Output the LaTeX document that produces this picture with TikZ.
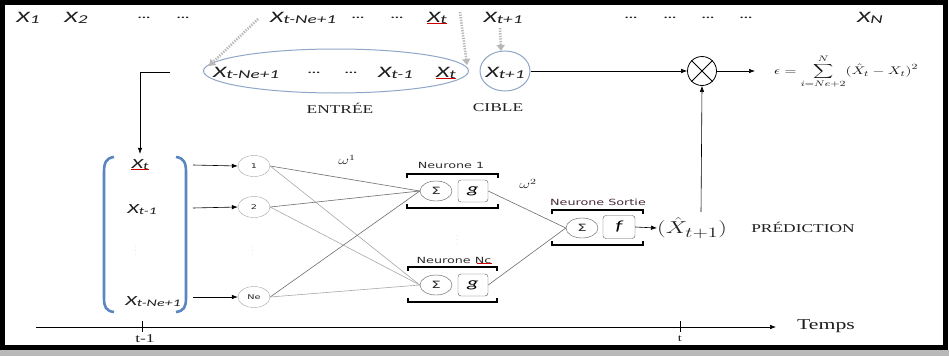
\documentclass[tikz,border=0pt]{standalone}
\usepackage{fontspec}
\usepackage{graphicx}
\usetikzlibrary{shapes.geometric,arrows.meta}
\newfontfamily\xfont[FakeStretch=1.6]{Carlito}
\newfontfamily\labfont[FakeStretch=1.5]{DejaVu Sans}
\newfontfamily\serw[FakeStretch=1.45]{Liberation Serif}
\definecolor{ellblue}{HTML}{8EA6C8}
\definecolor{parblue}{HTML}{5B86C0}
\definecolor{txt}{HTML}{1E1E1E}
\definecolor{wire}{HTML}{6E6E6E}
\definecolor{wirelt}{HTML}{A8A8A8}
\definecolor{dotgrey}{HTML}{B8B8B8}
\definecolor{sortie}{HTML}{4A2A3A}
% series values X with a subscript, large and small variants
\newcommand\xvar[1]{{\xfont\itshape\fontsize{16}{18}\selectfont X\raisebox{-1.5pt}{\fontsize{12}{13}\selectfont #1}}}
\newcommand\xsm[1]{{\xfont\itshape\fontsize{14}{16}\selectfont X\raisebox{-1.5pt}{\fontsize{10}{12}\selectfont #1}}}
\newcommand\ddd{{\xfont\bfseries\fontsize{10}{12}\selectfont ...}}
\newcommand\wide[1]{\scalebox{1.4}[1]{#1}}
\begin{document}
\begin{tikzpicture}[x=1pt,y=-1pt,
  lbl/.style={inner sep=0pt, text=txt},
  wirearrow/.style={-{Latex[length=6pt,width=4.5pt]}, line width=0.6pt},
  dotarrow/.style={draw=dotgrey, line width=2.6pt, dash pattern=on 1.3pt off 1.3pt,
     -{Triangle[length=6pt,width=8pt,fill=dotgrey]}},
  inneur/.style={ellipse, draw=gray!70, minimum width=32pt, minimum height=21pt, inner sep=0pt,
     font=\labfont\fontsize{6.5}{7}\selectfont, text=gray!30!black},
  sumnode/.style={ellipse, draw=gray!70!black, minimum width=32pt, minimum height=20pt, inner sep=0pt,
     font=\labfont\fontsize{10}{11}\selectfont, text=gray!30!black},
  actbox/.style={rectangle, rounded corners=3pt, draw=gray!70!black, minimum width=30pt, minimum height=22pt,
     inner sep=0pt, font=\xfont\itshape\fontsize{14}{15}\selectfont},
  brk/.style={line width=2.2pt, black},
  link/.style={draw=wire, line width=0.6pt},
  linklt/.style={draw=wirelt, line width=0.6pt},
  squig/.style={draw=red!80!black, line width=0.6pt},
  nlab/.style={inner sep=0pt, font=\labfont\fontsize{8.5}{9}\selectfont, text=gray!35!black},
  caps/.style={inner sep=0pt, font=\serw\fontsize{12}{13}\selectfont, text=gray!25!black},
]
\useasboundingbox (0,0) rectangle (949,356);
\fill[white] (0,0) rectangle (949,356);
% frame
\fill[gray!55] (0,350) rectangle (949,356);
\draw[line width=5pt] (2.5,2.5) rectangle (945.5,347.5);

% time series
\node[lbl,anchor=base] (x1) at (28,22) {\xvar{1}};
\node[lbl,anchor=base] (x2) at (76,22) {\xvar{2}};
\node[lbl] (d1) at (144,18) {\ddd};
\node[lbl] (d2) at (183,18) {\ddd};
\node[lbl,anchor=base west] (xa) at (270,22) {\xvar{t-Ne+1}};
\node[lbl] (d3) at (358,18) {\ddd};
\node[lbl] (d4) at (397,18) {\ddd};
\node[lbl,anchor=base] (xt) at (437,22) {\xvar{t}};
\node[lbl,anchor=base] (xn1) at (503,22) {\xvar{t+1}};
\node[lbl] (d5) at (631,18) {\ddd};
\node[lbl] (d6) at (670,18) {\ddd};
\node[lbl] (d7) at (708,18) {\ddd};
\node[lbl] (d8) at (746,18) {\ddd};
\node[lbl,anchor=base] (xN) at (870,22) {\xvar{N}};
\draw[squig] (xt.south west) -- (xt.south east);

% input window and target
\node[ellipse, draw=ellblue, line width=1pt, minimum width=265pt, minimum height=44pt] (win) at (336,71) {};
\node[ellipse, draw=ellblue, line width=1pt, minimum width=50pt, minimum height=40pt] (tgt) at (505,71) {};
\node[lbl,anchor=base west] (e1) at (213,77) {\xvar{t-Ne+1}};
\node[lbl] (e2) at (314,73) {\ddd};
\node[lbl] (e3) at (351,73) {\ddd};
\node[lbl,anchor=base west] (e4) at (378,77) {\xvar{t-1}};
\node[lbl,anchor=base] (e5) at (446,77) {\xvar{t}};
\node[lbl,anchor=base] (tx) at (505,77) {\xvar{t+1}};
\draw[squig] (e5.south west) -- (e5.south east);
\node[caps] (entree) at (340,108) {ENTRÉE};
\node[caps] (cible) at (498,108) {CIBLE};

% selection arrows
\coordinate (a1s) at (258,19); \coordinate (a1e) at (209,66);
\coordinate (a2s) at (460,12); \coordinate (a2e) at (467,65);
\coordinate (a3s) at (500,28); \coordinate (a3e) at (501,51);
\draw[dotarrow] (a1s) -- (a1e);
\draw[dotarrow] (a2s) -- (a2e);
\draw[dotarrow] (a3s) -- (a3e);

% error computation
\node[circle, draw, line width=0.8pt, minimum size=29pt, inner sep=0pt] (ot) at (702,71) {};
\draw[line width=0.8pt] (ot.45) -- (ot.225) (ot.135) -- (ot.315);
\draw[wirearrow] (tgt.east) -- (ot.west);
\coordinate (epsa) at (755,71);
\draw[wirearrow] (ot.east) -- (epsa);
\node[lbl,anchor=west,text=gray!20!black] (eps) at (774,72)
  {\wide{\fontsize{11}{13}\selectfont$\displaystyle \epsilon = \sum_{i=Ne+2}^{N} (\hat{X}_t - X_t)^2$}};
\coordinate (pv) at (701,212);
\draw[wirearrow] (pv) -- (ot.south);

% input vector
\draw[parblue, line width=2.6pt] (114,157) .. controls (106,158) and (104,163) .. (104,172) -- (104,298)
  .. controls (104,307) and (106,311) .. (114,312);
\draw[parblue, line width=2.6pt] (176,157) .. controls (184,158) and (186,163) .. (186,172) -- (186,298)
  .. controls (186,307) and (184,311) .. (176,312);
\node[lbl,anchor=base] (c1) at (140,168) {\xsm{t}};
\node[lbl,anchor=base] (c2) at (142,213) {\xsm{t-1}};
\node[lbl,text=gray] (cv) at (136,248) {\tiny$\vdots$};
\node[lbl,anchor=base] (c3) at (153,305) {\xsm{t-Ne+1}};
\draw[squig] (c1.south west) -- (c1.south east);
\coordinate (lf) at (170,72);
\draw[wirearrow] (lf) -| ([yshift=5pt]c1.north);

% input layer
\node[inneur] (n1) at (254,166) {1};
\node[inneur] (n2) at (254,207) {2};
\node[lbl,text=gray] (nv) at (253,248) {\tiny$\vdots$};
\node[inneur] (ne) at (254,297) {Ne};
\coordinate (ca1) at (193,165);
\coordinate (ca2) at (193,208);
\coordinate (ca3) at (193,297);
\draw[wirearrow] (ca1) -- (n1.west);
\draw[wirearrow] (ca2) -- (n2.west);
\draw[wirearrow] (ca3) -- (ne.west);
\node[lbl] (w1) at (347,160) {\wide{\fontsize{12}{14}\selectfont$\omega^1$}};

% hidden layer
\node[sumnode] (s1) at (436,191) {Σ};
\node[actbox] (g1) at (473,191) {g};
\node[sumnode] (sN) at (436,285) {Σ};
\node[actbox] (gN) at (473,285) {g};
\node[lbl,text=gray] (hv) at (457,237) {\tiny$\vdots$};
\node[nlab] (l1) at (451,165) {Neurone 1};
\node[nlab] (lN) at (454,260) {Neurone Nc};
\draw[squig] ([xshift=-15pt]lN.south east) -- (lN.south east);
\draw[brk] (407,178) -- (407,174) -- (498,174) -- (498,178);
\draw[brk] (407,204) -- (407,208) -- (498,208) -- (498,204);
\draw[brk] (408,271) -- (408,267) -- (497,267) -- (497,271);
\draw[brk] (408,298) -- (408,302) -- (497,302) -- (497,298);

\draw[link] (n1.east) -- (s1.west);
\draw[linklt] (n1.east) -- (sN.west);
\draw[link] (n2.east) -- (s1.west);
\draw[linklt] (n2.east) -- (sN.west);
\draw[link] (ne.east) -- (s1.west);
\draw[linklt] (ne.east) -- (sN.west);

% output neuron
\node[sumnode] (so) at (582,228) {Σ};
\node[actbox, minimum width=32pt, minimum height=23pt] (fo) at (619,227) {f};
\node[nlab,text=sortie] (lo) at (598,202) {Neurone Sortie};
\draw[brk] (552,214) -- (552,210) -- (643,210) -- (643,214);
\draw[brk] (552,241) -- (552,245) -- (643,245) -- (643,241);
\draw[link] (g1.east) -- (so.west);
\draw[link] (gN.east) -- (so.west);
\node[lbl] (w2) at (528,184) {\wide{\fontsize{12}{14}\selectfont$\omega^2$}};

\node[lbl,anchor=west] (pred) at (657,228) {\wide{\fontsize{19}{22}\selectfont$(\hat{X}_{t+1})$}};
\draw[wirearrow] (fo.east) -- (pred.west);
\node[caps] (predl) at (803,227) {PRÉDICTION};

% time axis
\coordinate (ta) at (36,327);
\coordinate (tb) at (776,327);
\draw[wirearrow] (ta) -- (tb);
\draw[line width=0.6pt] (142,321) -- (142,332);
\draw[line width=0.6pt] (680,321) -- (680,332);
\node[lbl,font=\serw\fontsize{12}{13}\selectfont] (tm1) at (145,339) {t-1};
\node[lbl,font=\serw\fontsize{10}{11}\selectfont] (tt) at (680,339) {t};
\node[lbl,font=\serw\fontsize{15}{16}\selectfont] (temps) at (826,326) {Temps};
\end{tikzpicture}
\end{document}
